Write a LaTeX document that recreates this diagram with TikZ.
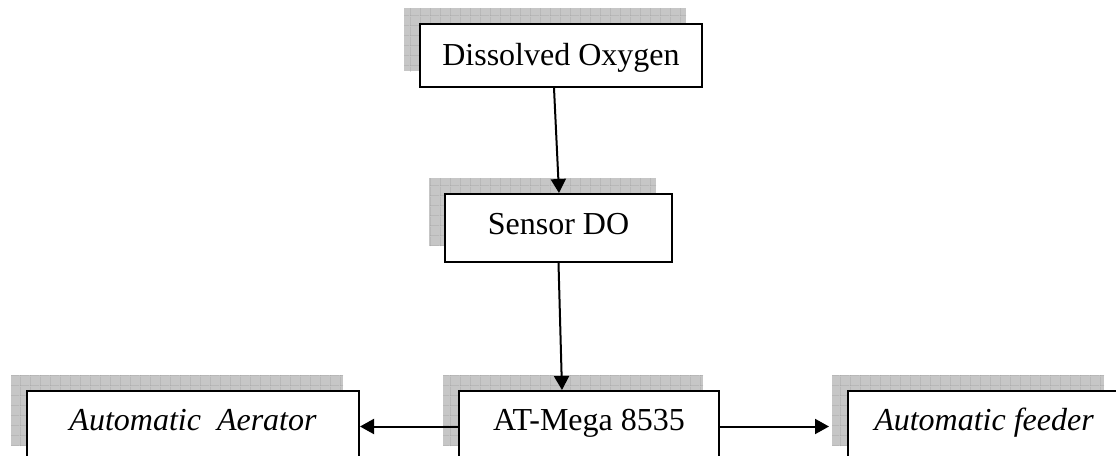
\documentclass[tikz,border=0pt]{standalone}
\usepackage{fontspec}
\setmainfont{Liberation Serif}
\usetikzlibrary{
  arrows.meta,
  shadows,
  patterns.meta
}

% fine grid for the box shadows
\tikzdeclarepattern{
  name       = shadowgrid,
  type       = uncolored,
  bounding box = {(0pt,0pt) and (5pt,5pt)},
  tile size  = {(5pt,5pt)},
  code       = {\draw[line width=0.35pt] (0pt,0pt) -- (5pt,0pt) (0pt,0pt) -- (0pt,5pt);}
}

\begin{document}
\begin{tikzpicture}[
  x = 0.5pt, y = -0.5pt,
  % ── Box with grid shadow ───────────────────────────────
  box/.style={
    rectangle,
    draw         = black,
    line width   = 1pt,
    fill         = white,
    inner sep    = 0pt,
    align        = center,
    text height  = 11pt,
    font         = \fontsize{16}{19}\selectfont,
    general shadow = {
      shadow xshift = -8pt,
      shadow yshift = 8pt,
      draw          = none,
      fill          = gray!45,
      postaction    = {pattern=shadowgrid, pattern color=gray!75}
    }
  },
  % ── Italic box ─────────────────────────────────────────
  itbox/.style={
    box,
    font = \fontsize{16}{19}\selectfont\itshape
  },
  % ── Arrow ──────────────────────────────────────────────
  arr/.style={
    -{Triangle[length=7pt, width=7.5pt]},
    line width = 1pt
  }
]
\useasboundingbox (0,0) rectangle (1116,456);

% ── Nodes ──────────────────────────────────────────────────
\node[box, minimum width=141pt, minimum height=31.5pt, text depth=1.5pt]   (oxygen)  at (561,55.5)  {Dissolved Oxygen};
\node[box, minimum width=113.5pt, minimum height=34pt, text depth=5pt]     (sensor)  at (558.5,228) {Sensor DO};
\node[box, minimum width=130pt, minimum height=35.5pt, text depth=7.5pt]   (mega)    at (589,426.5) {AT-Mega 8535};
\node[itbox, minimum width=166pt, minimum height=35.5pt, text depth=7.5pt] (aerator) at (193,426.5) {Automatic\ \ Aerator};
\node[itbox, minimum width=136pt, minimum height=35.5pt, text depth=7.5pt] (feeder)  at (984,426.5) {Automatic feeder};

% ── Arrows ─────────────────────────────────────────────────
\draw[arr] ([xshift=-3.5pt]oxygen.south) -- ([xshift=0.25pt]sensor.north);
\draw[arr] (sensor.south) -- ([xshift=-13.5pt]mega.north);
\draw[arr] (mega.west) -- (aerator.east);
\draw[arr, shorten >=9pt] (mega.east) -- (feeder.west);

\end{tikzpicture}
\end{document}
